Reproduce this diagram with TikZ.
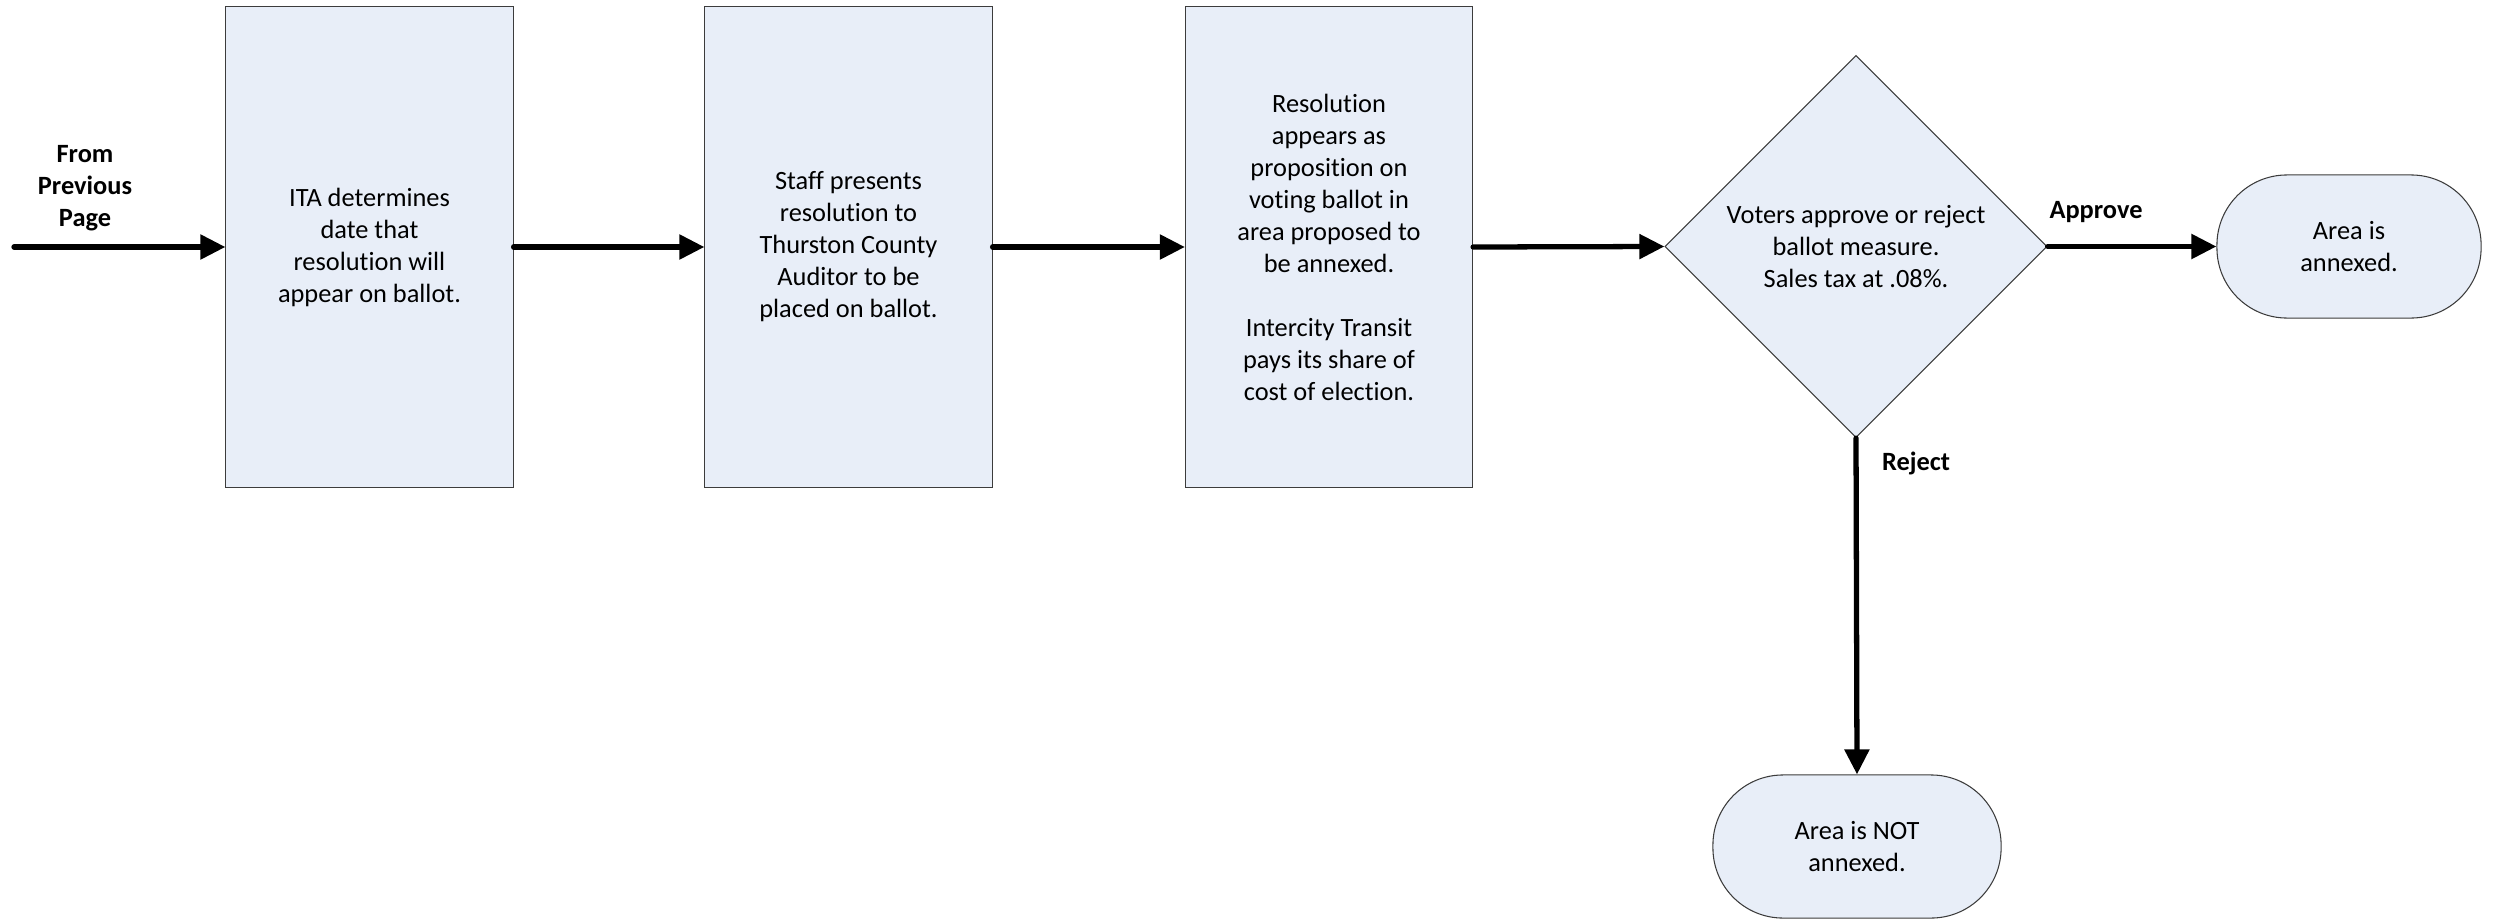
\documentclass[tikz,border=0pt]{standalone}
\usepackage{fontspec}
\setmainfont{Carlito}[Ligatures=NoCommon]
\usepackage{tikz}
\usetikzlibrary{shapes.geometric,arrows.meta}

\definecolor{boxfill}{RGB}{232,238,248}
\definecolor{boxline}{RGB}{60,60,60}
\newcommand{\flowfont}{\fontsize{7.5}{9.1}\selectfont}

\tikzset{
    procbox/.style={draw=boxline, line width=0.3pt, fill=boxfill,
        minimum width=2.87cm, minimum height=4.8cm, inner sep=0pt,
        align=center, font=\flowfont},
    decide/.style={diamond, aspect=1, draw=boxline, line width=0.3pt,
        fill=boxfill, minimum width=3.82cm, minimum height=3.82cm,
        inner sep=0pt, align=center, font=\flowfont},
    term/.style={draw=boxline, line width=0.3pt, fill=boxfill,
        rounded corners=0.7cm, minimum height=1.43cm, inner sep=0pt,
        align=center, font=\flowfont},
    lbl/.style={align=center, inner sep=0pt, font=\flowfont\bfseries},
    flow/.style={line width=1.5pt, line cap=round,
        -{Triangle[length=0.25cm, width=0.24cm]}}
}

\begin{document}
\begin{tikzpicture}[x=0.01cm, y=-0.01cm]
    \useasboundingbox (0,0) rectangle (2494,918);

    % process steps
    \node[procbox] (ita) at (369.5,247) {ITA determines\\date that\\resolution will\\appear on ballot.};
    \node[procbox] (staff) at (848.5,247) {Staff presents\\resolution to\\Thurston County\\Auditor to be\\placed on ballot.};
    \node[procbox] (ballot) at (1329,247) {Resolution\\appears as\\proposition on\\voting ballot in\\area proposed to\\be annexed.\\[9.1pt]Intercity Transit\\pays its share of\\cost of election.};

    % decision and outcomes
    \node[decide] (vote) at (1856,246.5) {Voters approve or reject\\ballot measure.\\Sales tax at .08\%.};
    \node[term, minimum width=2.64cm] (yes) at (2349,246.5) {Area is\\annexed.};
    \node[term, minimum width=2.88cm] (no) at (1857,846.5) {Area is NOT\\annexed.};

    % labels
    \coordinate (prev) at (14,247);
    \node[lbl] at (85,188) {From\\Previous\\Page};
    \node[lbl] at (2096,212) {Approve};
    \node[lbl] at (1916,463) {Reject};

    \draw[flow] (prev) -- (ita.west);
    \draw[flow] (ita.east) -- (staff.west);
    \draw[flow] (staff.east) -- (ballot.west);
    \draw[flow] (ballot.east) -- (vote.west);
    \draw[flow] (vote.east) -- (yes.west);
    \draw[flow] (vote.south) -- (no.north);
\end{tikzpicture}
\end{document}
